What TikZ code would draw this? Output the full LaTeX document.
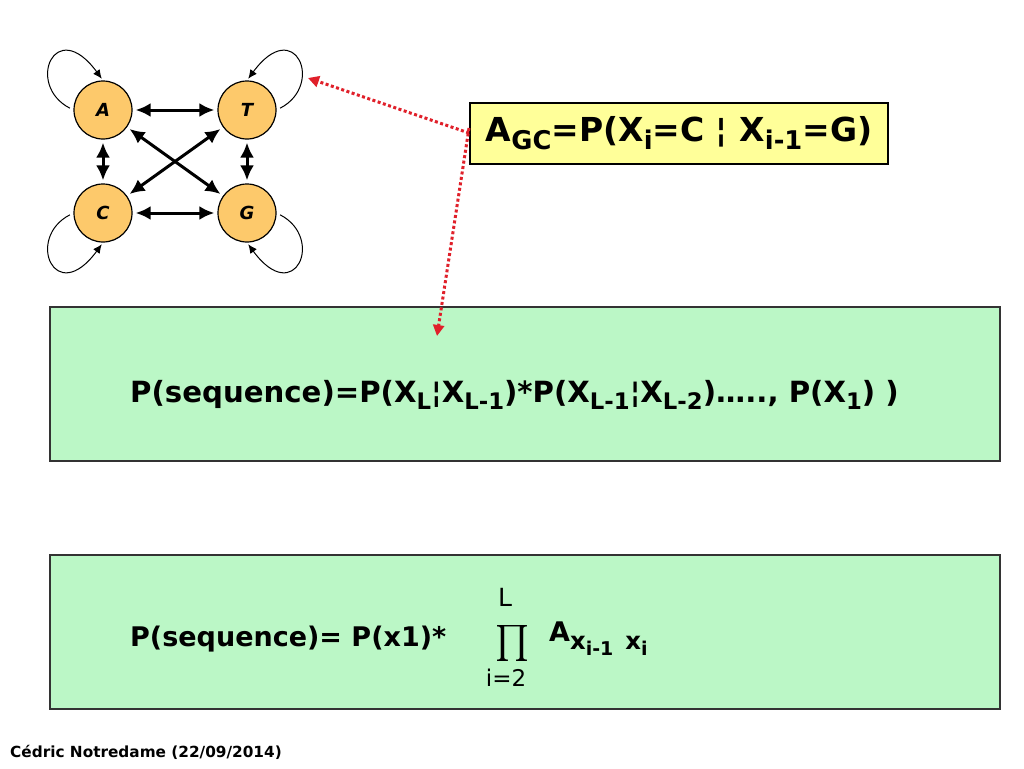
\documentclass[tikz,border=0pt]{standalone}
\usepackage{fontspec}
\setmainfont{DejaVu Sans}
\usetikzlibrary{arrows.meta}
\definecolor{nodeor}{HTML}{FDC96B}
\definecolor{boxyel}{HTML}{FFFF99}
\definecolor{boxgrn}{HTML}{BBF7C6}
\definecolor{redot}{HTML}{E0202A}
\newcommand\lo[1]{\raisebox{-0.45ex}{\scalebox{0.78}{#1}}}
\tikzset{
  base/.style={circle, draw=black, line width=1.2pt, fill=nodeor, minimum size=58pt, inner sep=0pt, font=\bfseries\itshape\fontsize{18}{18}\selectfont},
  dbl/.style={{Latex[length=15pt,width=14pt]}-{Latex[length=15pt,width=14pt]}, line width=3pt, shorten <=3pt, shorten >=3pt},
  selfloop/.style={-{Latex[length=9pt,width=8pt]}, line width=1pt},
  redarrow/.style={redot, line width=3pt, dash pattern=on 3pt off 2.5pt, -{Triangle[length=11pt,width=11pt]}},
  yelbox/.style={draw=black, line width=2pt, fill=boxyel, minimum width=418pt, minimum height=61pt, inner sep=0pt, font=\bfseries\fontsize{33}{36}\selectfont},
  grnbox/.style={draw=black!80, line width=2.5pt, fill=boxgrn, minimum width=950pt, minimum height=154pt, inner sep=0pt},
  formula/.style={font=\bfseries\fontsize{27}{30}\selectfont, inner sep=0pt, anchor=west}
}
\begin{document}
\begin{tikzpicture}[x=1pt,y=-1pt]
\useasboundingbox (0,0) rectangle (1024,768);
\fill[white] (0,0) rectangle (1024,768);
% DNA nodes
\node[base] (A) at (103,110) {A};
\node[base] (T) at (247,110) {T};
\node[base] (C) at (103,213) {C};
\node[base] (G) at (247,213) {G};
\draw[dbl] (A) -- (T);
\draw[dbl] (C) -- (G);
\draw[dbl] (A) -- (C);
\draw[dbl] (T) -- (G);
\draw[dbl] (A) -- (G);
\draw[dbl] (T) -- (C);
% self loops
\draw[selfloop, shorten <=4pt, shorten >=2pt] (A.west) .. controls (25,85) and (55,15) .. (A.north);
\draw[selfloop, shorten <=4pt, shorten >=2pt] (T.east) .. controls (325,85) and (295,15) .. (T.north);
\draw[selfloop, shorten <=4pt, shorten >=2pt] (C.west) .. controls (25,238) and (55,308) .. (C.south);
\draw[selfloop, shorten <=4pt, shorten >=2pt] (G.east) .. controls (325,238) and (295,308) .. (G.south);
% yellow box
\node[yelbox] (agc) at (679,133) {A\lo{GC}=P(X\lo{i}=C ¦ X\lo{i-1}=G)};
% green boxes
\node[grnbox] (seq1) at (525,384) {};
\node[grnbox] (seq2) at (525,632) {};
\node[formula, font=\bfseries\fontsize{29.2}{30}\selectfont] (f1) at (130,395) {P(sequence)=P(X\lo{L}¦X\lo{L-1})*P(X\lo{L-1}¦X\lo{L-2})….., P(X\lo{1}) )};
\node[formula] (f2) at (130,639) {P(sequence)= P(x1)*};
\node[inner sep=0pt] (prod) at (512,643) {\resizebox{!}{27pt}{$\prod$}};
\node[inner sep=0pt, font=\fontsize{25}{25}\selectfont] (up) at (505,597) {L};
\node[inner sep=0pt, font=\fontsize{23}{23}\selectfont] (lowi) at (506,678) {i=2};
\node[formula] (f3) at (549,639) {A\raisebox{-0.55ex}{\scalebox{0.9}{x\lo{i-1}\,\,\,x\lo{i}}}};
% red dotted arrows
\coordinate (tgt1) at (308,78);
\coordinate (tgt2) at (437,336);
\draw[redarrow] (agc.west) -- (tgt1);
\draw[redarrow] ([yshift=5pt]agc.west) -- (tgt2);
% footer
\node[anchor=west, inner sep=0pt, font=\bfseries\fontsize{15.3}{16}\selectfont] (foot) at (10,752) {Cédric Notredame (22/09/2014)};
\end{tikzpicture}
\end{document}
